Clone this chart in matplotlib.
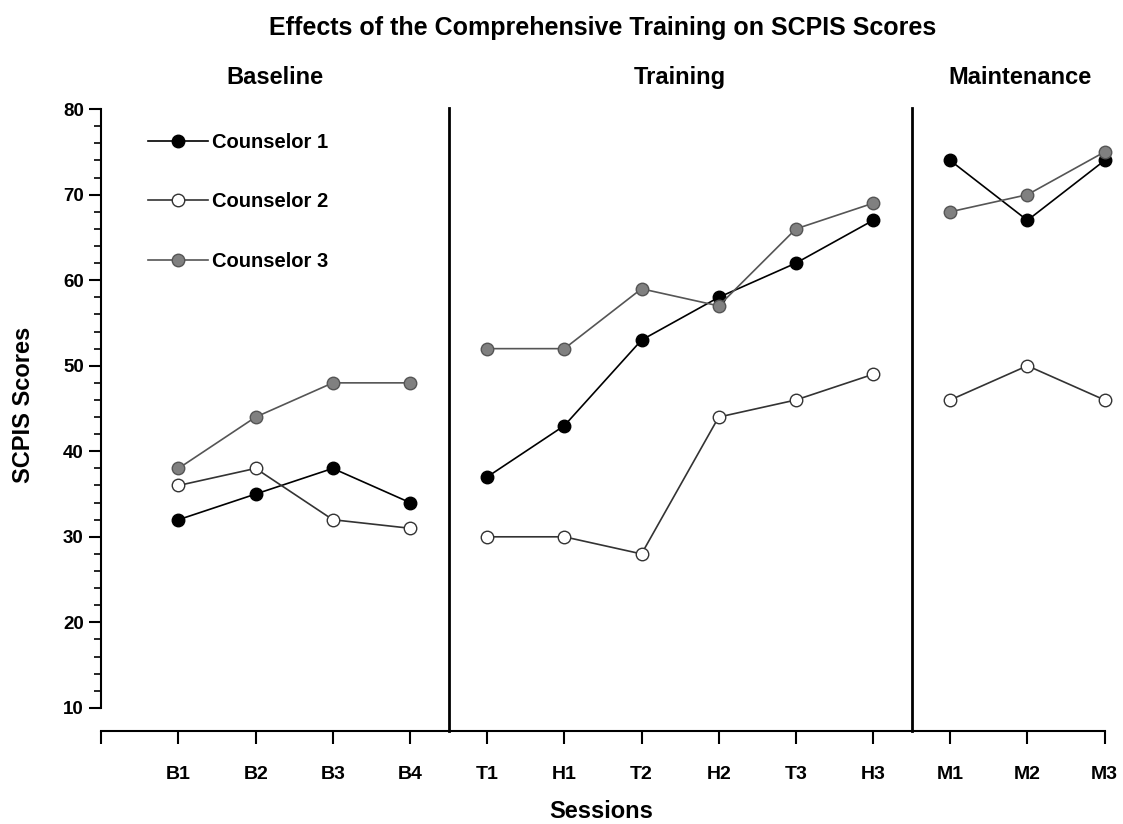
import numpy as np
import matplotlib.pyplot as plt
from matplotlib.ticker import FixedLocator

plt.rcParams['font.family'] = ['Liberation Sans', 'DejaVu Sans']
plt.rcParams['font.weight'] = 'bold'

# sessions and scores
sessions = ['B1', 'B2', 'B3', 'B4', 'T1', 'H1', 'T2', 'H2', 'T3', 'H3', 'M1', 'M2', 'M3']
counselor1 = [32, 35, 38, 34, 37, 43, 53, 58, 62, 67, 74, 67, 74]
counselor2 = [36, 38, 32, 31, 30, 30, 28, 44, 46, 49, 46, 50, 46]
counselor3 = [38, 44, 48, 48, 52, 52, 59, 57, 66, 69, 68, 70, 75]
phases = ['Baseline', 'Training', 'Maintenance']
phase_ends = [4, 10, 13]  # last session index (1-based) of each phase

x = np.arange(1, len(sessions) + 1)

fig = plt.figure(figsize=(11.23, 8.24), dpi=100)
ax = fig.add_axes([0.0902, 0.1129, 0.8934, 0.7650])

series = [(counselor1, 'Counselor 1', 'black', 'black', 'black'),
          (counselor2, 'Counselor 2', 'white', '#333333', '#333333'),
          (counselor3, 'Counselor 3', '#808080', '#555555', '#555555')]

for i in range(len(phase_ends)):
    start = 0 if i == 0 else phase_ends[i - 1]
    end = phase_ends[i]
    for vals, name, fc, ec, lc in series:
        ax.plot(x[start:end], vals[start:end], '-o', color=lc, lw=1.2,
                markerfacecolor=fc, markeredgecolor=ec, markersize=9,
                markeredgewidth=1.0, clip_on=False, zorder=3,
                label=name if i == 0 else None)

# phase change lines
for b in phase_ends[:-1]:
    ax.plot([b + 0.5, b + 0.5], [7.3, 80.1], color='black', lw=2, clip_on=False)

# phase labels
label_x = [2.25, 7.5, 11.9]
for name, lx in zip(phases, label_x):
    ax.text(lx, 83.65, name, ha='center', va='center', fontsize=17, fontweight='bold')

ax.set_xlim(0, 13)
ax.set_ylim(7.3, 81)
ax.spines['top'].set_visible(False)
ax.spines['right'].set_visible(False)
ax.spines['left'].set_bounds(10, 80)
ax.spines['bottom'].set_bounds(0, 13)
ax.spines['left'].set_linewidth(1.5)
ax.spines['bottom'].set_linewidth(1.5)

ax.set_yticks(np.arange(10, 81, 10))
ax.yaxis.set_minor_locator(FixedLocator(np.arange(10, 81, 2)))
ax.tick_params(axis='y', which='major', length=8.6, width=1.5, pad=4, labelsize=13.5)
ax.tick_params(axis='y', which='minor', length=5, width=1.2)

ax.set_xticks(np.arange(0, 14))
ax.set_xticklabels([''] + sessions)
ax.tick_params(axis='x', which='major', length=9, width=1.5, pad=16, labelsize=14)

fig.text(601 / 1123, 1 - 812 / 824, 'Sessions', ha='center', va='center',
         fontsize=17, fontweight='bold')
fig.text(24 / 1123, 1 - 405 / 824, 'SCPIS Scores', ha='center', va='center',
         rotation=90, fontsize=17, fontweight='bold')
fig.text(603 / 1123, 1 - 28 / 824, 'Effects of the Comprehensive Training on SCPIS Scores',
         ha='center', va='center', fontsize=18, fontweight='bold')

leg = ax.legend(loc='upper left', bbox_to_anchor=(0.028, 0.978), frameon=False,
                fontsize=14.5, handlelength=3.0, labelspacing=2.03, handletextpad=0.2)
for t in leg.get_texts():
    t.set_fontweight('bold')

fig.savefig('out.png', dpi=100)
